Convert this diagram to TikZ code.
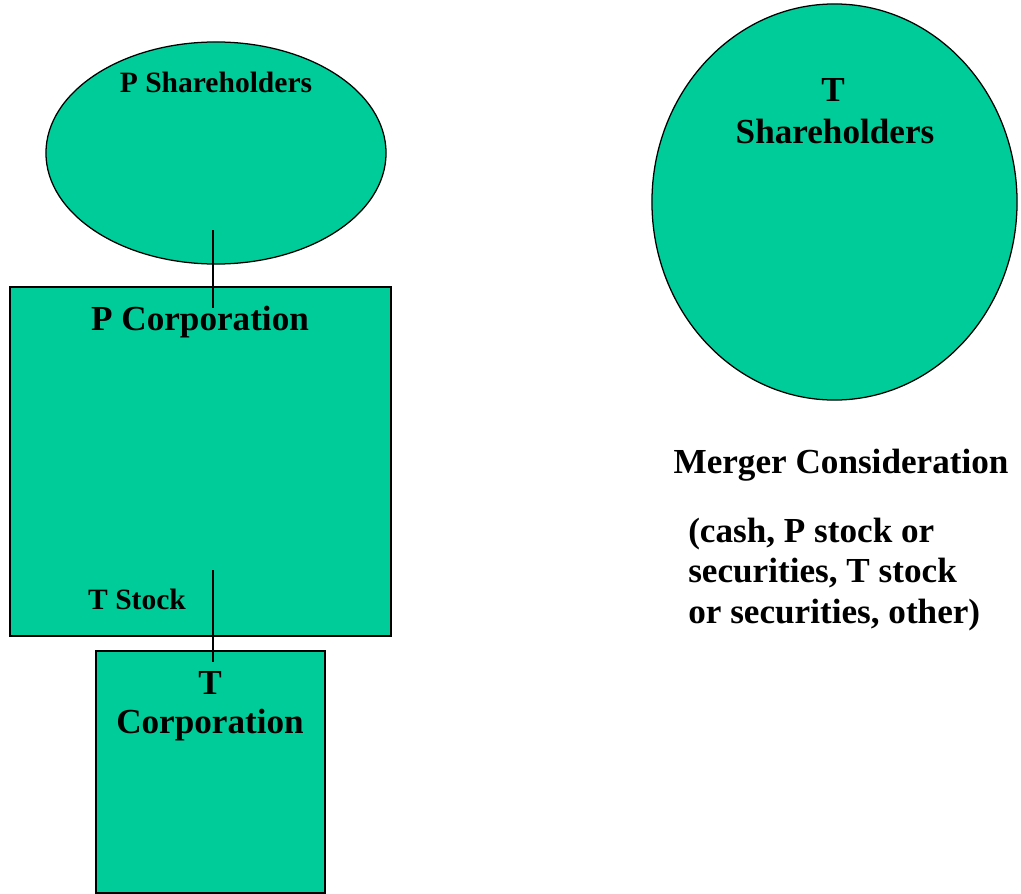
\documentclass[tikz,border=0pt]{standalone}
\usepackage{fontspec}
\setmainfont{Liberation Serif}
\usetikzlibrary{shapes.geometric}
\definecolor{dealgreen}{RGB}{0,204,153}
\newcommand{\party}[1]{\textbf{#1}}
\tikzset{
  holders/.style={ellipse, draw, fill=dealgreen, line width=0.9pt, inner sep=0pt},
  corp/.style={rectangle, draw, fill=dealgreen, line width=0.9pt, inner sep=0pt},
  smalltxt/.style={anchor=base, font=\fontsize{21}{25}\selectfont},
  bigtxt/.style={anchor=base, font=\fontsize{25}{28.5}\selectfont}
}

\begin{document}
\begin{tikzpicture}[x=0.025cm, y=-0.025cm]
                    \useasboundingbox (0,0) rectangle (1021,894);

                    \node[holders, minimum width=8.5cm, minimum height=5.55cm] (psh) at (216,153) {};
                    \node[holders, minimum width=9.125cm, minimum height=9.9cm] (tsh) at (834.5,202) {};
                    \node[corp, minimum width=9.525cm, minimum height=8.725cm] (pcorp) at (200.5,461.5) {};
                    \node[corp, minimum width=5.725cm, minimum height=6.05cm] (tcorp) at (210.5,772) {};

                    \coordinate (pshfoot) at (213,230);
                    \coordinate (pcorphead) at (213,308);
                    \coordinate (tstock) at (213,570);
                    \coordinate (tcorphead) at (213,662);
                    \draw[line width=0.8pt] (pshfoot) -- (pcorphead);
                    \draw[line width=0.8pt] (tstock) -- (tcorphead);

                    \node[smalltxt] (pshtxt) at (216,92) {\party{P Shareholders}};
                    \node[bigtxt] (tshtxt1) at (833,101) {\party{T}};
                    \node[bigtxt] (tshtxt2) at (835,143) {\party{Shareholders}};
                    \node[bigtxt] (pcorptxt) at (200,330) {\party{P Corporation}};
                    \node[smalltxt] (tstocktxt) at (137,609) {\party{T Stock}};
                    \node[bigtxt] (tcorptxt1) at (210,694) {\party{T}};
                    \node[bigtxt] (tcorptxt2) at (210,733) {\party{Corporation}};
                    \node[bigtxt] (mctxt) at (841,473) {\party{Merger Consideration}};
                    \node[bigtxt, anchor=base west, align=left, inner sep=0pt] (mcform) at (688,623)
                      {\party{(cash, P stock or}\\ \party{securities, T stock}\\ \party{or securities, other)}};
                \end{tikzpicture}
\end{document}
